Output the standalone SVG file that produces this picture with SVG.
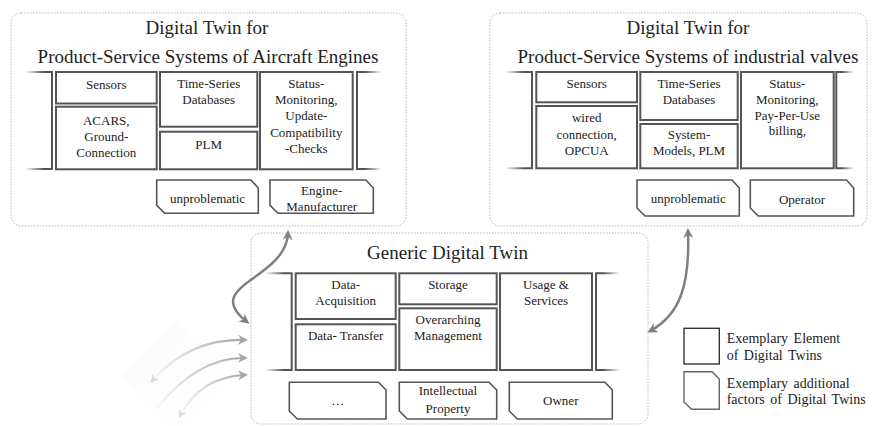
<svg xmlns="http://www.w3.org/2000/svg" width="877" height="426" viewBox="0 0 877 426">
<style>
.panel{fill:#fff;stroke:#b5b5b5;stroke-width:1;stroke-dasharray:1.5 1.5}
.el{fill:#fff;stroke:#555;stroke-width:2}
.fa{fill:#fff;stroke:#555;stroke-width:1.6}
.bl{fill:none;stroke:url(#gl);stroke-width:2}
.br{fill:none;stroke:url(#gr);stroke-width:2}
text{font-family:"Liberation Serif","Times New Roman",serif;fill:#222;text-anchor:middle}
.tt{font-size:19px}
.tx{font-size:13px}
.lg{font-size:14px;text-anchor:start;word-spacing:2px}
.con{fill:none;stroke:#808080;stroke-width:2.5}
.faint{fill:none;stroke-width:2.2}
</style>
<defs>
<linearGradient id="gl" x1="0" y1="0" x2="1" y2="0"><stop offset="0" stop-color="#555" stop-opacity="0"/><stop offset="0.7" stop-color="#555"/><stop offset="1" stop-color="#555"/></linearGradient>
<linearGradient id="gr" x1="1" y1="0" x2="0" y2="0"><stop offset="0" stop-color="#555" stop-opacity="0"/><stop offset="0.7" stop-color="#555"/><stop offset="1" stop-color="#555"/></linearGradient>
<linearGradient id="gf" x1="0" y1="1" x2="1" y2="0"><stop offset="0" stop-color="#ccc" stop-opacity="0.1"/><stop offset="1" stop-color="#a5a5a5"/></linearGradient>
<linearGradient id="gd" x1="0" y1="0" x2="1" y2="1"><stop offset="0" stop-color="#f4f4f4"/><stop offset="1" stop-color="#fbfbfb" stop-opacity="0.2"/></linearGradient>
<marker id="ah" viewBox="0 0 10 10" refX="7" refY="5" markerWidth="4" markerHeight="4" orient="auto-start-reverse" markerUnits="strokeWidth"><path d="M0,0 L10,5 L0,10 L3,5 Z" fill="#808080"/></marker>
<marker id="af" viewBox="0 0 10 10" refX="7" refY="5" markerWidth="4.5" markerHeight="4.5" orient="auto" markerUnits="strokeWidth"><path d="M0,0 L10,5 L0,10 L3,5 Z" fill="#a5a5a5"/></marker>
<marker id="afs" viewBox="0 0 10 10" refX="7" refY="5" markerWidth="4" markerHeight="4" orient="auto-start-reverse" markerUnits="strokeWidth"><path d="M0,0 L10,5 L0,10 L3,5 Z" fill="#dcdcdc"/></marker>
</defs>
<rect width="877" height="426" fill="#fff"/>

<g id="panel-aircraft">
<rect class="panel" x="11" y="13" width="395" height="213" rx="10"/>
<text class="tt" x="207" y="34">Digital Twin for</text>
<text class="tt" x="208" y="63">Product-Service Systems of Aircraft Engines</text>
<path class="bl" d="M25,72 H52 V169 H25"/>
<path class="br" d="M382,72 H357 V169 H382"/>
<g id="a-sensors"><rect class="el" x="56" y="72" width="100.7" height="31.5"/><text class="tx" x="106.3" y="88.5">Sensors</text></g>
<g id="a-acars"><rect class="el" x="56" y="106.7" width="100.7" height="62.6"/><text class="tx" x="106.3" y="125">ACARS,</text><text class="tx" x="106.3" y="140.7">Ground-</text><text class="tx" x="106.3" y="156.5">Connection</text></g>
<g id="a-tsdb"><rect class="el" x="160" y="72" width="97.3" height="54.7"/><text class="tx" x="208.7" y="87.5">Time-Series</text><text class="tx" x="208.7" y="104">Databases</text></g>
<g id="a-plm"><rect class="el" x="160" y="131.7" width="97.3" height="37.6"/><text class="tx" x="208.7" y="149">PLM</text></g>
<g id="a-status"><rect class="el" x="260" y="72" width="92.7" height="97.3"/><text class="tx" x="306.3" y="87.5">Status-</text><text class="tx" x="306.3" y="103.5">Monitoring,</text><text class="tx" x="306.3" y="119.5">Update-</text><text class="tx" x="306.3" y="136.5">Compatibility</text><text class="tx" x="306.3" y="152.5">-Checks</text></g>
<g id="a-unprob"><path class="fa" d="M156.7,180 H251 L258.3,188 V213.3 H164.7 L156.7,205.3 Z"/><text class="tx" x="207.5" y="203.3">unproblematic</text></g>
<g id="a-manuf"><path class="fa" d="M270,180 H366 L373.3,188 V213.3 H278 L270,205.3 Z"/><text class="tx" x="321.7" y="195">Engine-</text><text class="tx" x="321.7" y="210.5">Manufacturer</text></g>
</g>

<g id="panel-valves">
<rect class="panel" x="490" y="13" width="377" height="213" rx="10"/>
<text class="tt" x="688" y="34">Digital Twin for</text>
<text class="tt" x="688" y="63">Product-Service Systems of industrial valves</text>
<path class="bl" d="M505,72 H532 V168.3 H505"/>
<path class="br" d="M854,72 H836.3 V168.3 H854"/>
<g id="v-sensors"><rect class="el" x="536.3" y="72" width="100.7" height="30.3"/><text class="tx" x="586.7" y="88">Sensors</text></g>
<g id="v-wired"><rect class="el" x="536.3" y="106" width="100.7" height="62.3"/><text class="tx" x="586.7" y="121.7">wired</text><text class="tx" x="586.7" y="139.3">connection,</text><text class="tx" x="586.7" y="155">OPCUA</text></g>
<g id="v-tsdb"><rect class="el" x="640.3" y="72" width="97.4" height="48"/><text class="tx" x="689" y="87.5">Time-Series</text><text class="tx" x="689" y="104">Databases</text></g>
<g id="v-models"><rect class="el" x="640.3" y="124" width="97.4" height="44.3"/><text class="tx" x="689" y="138.5">System-</text><text class="tx" x="689" y="155">Models, PLM</text></g>
<g id="v-status"><rect class="el" x="741" y="72" width="92.7" height="96.3"/><text class="tx" x="787.3" y="87.5">Status-</text><text class="tx" x="787.3" y="103.5">Monitoring,</text><text class="tx" x="787.3" y="119.5">Pay-Per-Use</text><text class="tx" x="787.3" y="135">billing,</text></g>
<g id="v-unprob"><path class="fa" d="M637,180 H732 L739.3,188 V216 H645 L637,208 Z"/><text class="tx" x="688.2" y="202.7">unproblematic</text></g>
<g id="v-operator"><path class="fa" d="M750.3,180 H846.5 L853.7,188 V216 H758.3 L750.3,208 Z"/><text class="tx" x="802" y="203.5">Operator</text></g>
</g>

<g id="panel-generic">
<rect class="panel" x="251" y="233" width="397" height="191" rx="10"/>
<text class="tt" x="447.5" y="259">Generic Digital Twin</text>
<path class="bl" d="M265,273.3 H291.7 V370 H265"/>
<path class="br" d="M620,273.3 H596 V370 H620"/>
<g id="g-acq"><rect class="el" x="295.7" y="273.3" width="100" height="45.7"/><text class="tx" x="345.7" y="288.5">Data-</text><text class="tx" x="345.7" y="305">Acquisition</text></g>
<g id="g-transfer"><rect class="el" x="295.7" y="324.3" width="100" height="45.7"/><text class="tx" x="345.7" y="339.5">Data- Transfer</text></g>
<g id="g-storage"><rect class="el" x="399.3" y="273.3" width="97.4" height="31"/><text class="tx" x="448" y="288.5">Storage</text></g>
<g id="g-mgmt"><rect class="el" x="399.3" y="308.3" width="97.4" height="61.7"/><text class="tx" x="448" y="323.5">Overarching</text><text class="tx" x="448" y="339.5">Management</text></g>
<g id="g-usage"><rect class="el" x="500" y="273.3" width="92" height="96.7"/><text class="tx" x="546" y="288.5">Usage &amp;</text><text class="tx" x="546" y="305">Services</text></g>
<g id="g-dots"><path class="fa" d="M289.3,382.3 H378.5 L386,390 V419 H297.3 L289.3,411 Z"/><text class="tx" x="337.7" y="405" fill="#666">…</text></g>
<g id="g-ip"><path class="fa" d="M399.3,382.3 H489 L496.7,390 V419 H407.3 L399.3,411 Z"/><text class="tx" x="448" y="395">Intellectual</text><text class="tx" x="448" y="412.5">Property</text></g>
<g id="g-owner"><path class="fa" d="M509.3,382.3 H605 L612.3,390 V419 H517.3 L509.3,411 Z"/><text class="tx" x="560.8" y="405">Owner</text></g>
</g>

<g id="legend">
<g id="legend-element"><rect x="684" y="328.3" width="35.3" height="35.7" fill="#fff" stroke="#333" stroke-width="1.4"/><text class="lg" x="726.7" y="343.3">Exemplary Element</text><text class="lg" x="726.7" y="360">of Digital Twins</text></g>
<g id="legend-factor"><path d="M684,371.7 H712 L719.3,379 V409.3 H691.5 L684,402 Z" fill="#fff" stroke="#666" stroke-width="1.4"/><text class="lg" x="726.7" y="388.3">Exemplary additional</text><text class="lg" x="726.7" y="403.5">factors of Digital Twins</text></g>
</g>

<g id="connectors">
<polygon points="120,376 177,319 234,376 177,433" fill="url(#gd)" opacity="0.4"/>
<path class="con" d="M288,233 C286,280 200,285 247,322" marker-start="url(#ah)" marker-end="url(#ah)"/>
<path class="con" d="M688,231 C690,285 680,315 650,331" marker-start="url(#ah)" marker-end="url(#ah)"/>
<path class="faint" stroke="url(#gf)" d="M152,381 Q190,338 245,340" marker-start="url(#afs)" marker-end="url(#af)"/>
<path class="faint" stroke="url(#gf)" d="M157,408 Q198,357 245,358" marker-end="url(#af)"/>
<path class="faint" stroke="url(#gf)" d="M180,416 Q200,377 245,375" marker-start="url(#afs)" marker-end="url(#af)"/>
</g>
</svg>
